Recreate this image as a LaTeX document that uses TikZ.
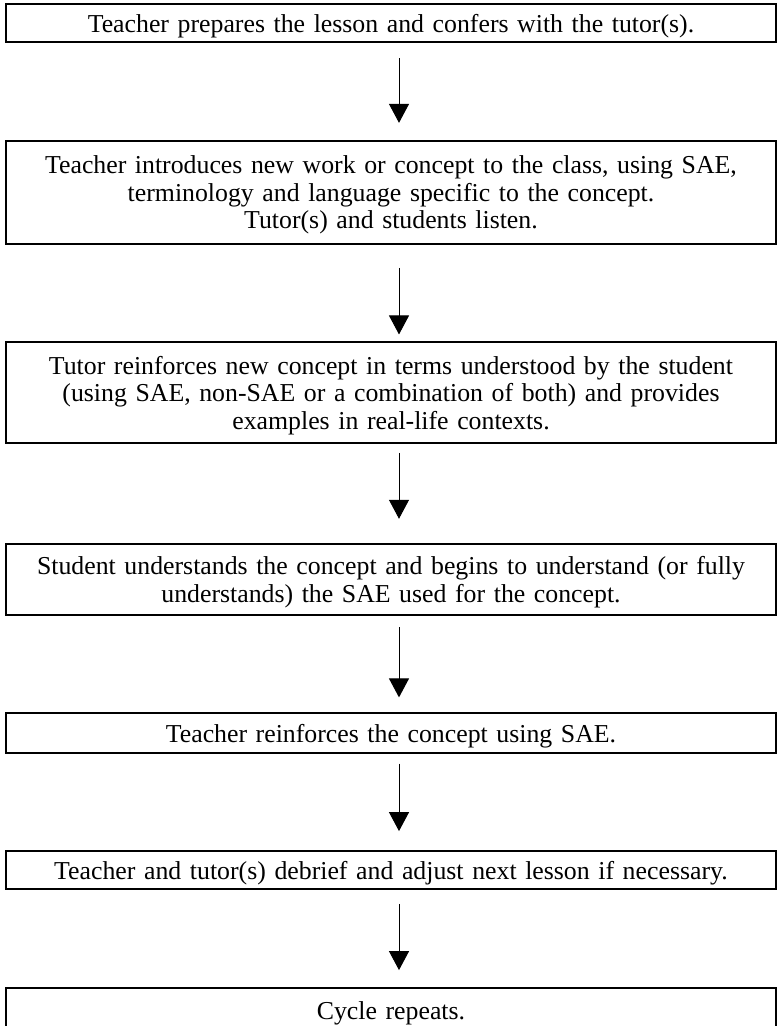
\documentclass[tikz,border=0pt]{standalone}
\usepackage{fontspec}
\setmainfont{Liberation Serif}
\usetikzlibrary{arrows.meta}

\tikzset{
  stepbox/.style={draw, line width=1.8pt, minimum width=769.4pt, inner sep=0pt,
    align=center, text width=765pt, text depth=0pt,
    font=\fontsize{25.8}{27.5}\selectfont},
  flow/.style={line width=1pt, -{Triangle[width=20pt,length=19pt]}}
}

\begin{document}
\begin{tikzpicture}[x=1pt,y=1pt]
  \useasboundingbox (0,0) rectangle (777,-1026);
  \clip (0,0) rectangle (777,-1026);

  % process steps
  \node[stepbox, minimum height=38.6pt] (b1) at (391,-23)
    {Teacher prepares the lesson and confers with the tutor(s).};
  \node[stepbox, minimum height=103.3pt, text depth=55pt] (b2) at (391,-192.4)
    {Teacher introduces new work or concept to the class, using SAE,\\
     terminology and language specific to the concept.\\
     Tutor(s) and students listen.};
  \node[stepbox, minimum height=100.7pt, text depth=55pt] (b3) at (391,-392.7)
    {Tutor reinforces new concept in terms understood by the student\\
     (using SAE, non-SAE or a combination of both) and provides\\
     examples in real-life contexts.};
  \node[stepbox, minimum height=71.6pt, text depth=27.5pt] (b4) at (391,-579.5)
    {Student understands the concept and begins to understand (or fully\\
     understands) the SAE used for the concept.};
  \node[stepbox, minimum height=39.4pt] (b5) at (391,-733)
    {Teacher reinforces the concept using SAE.};
  \node[stepbox, minimum height=38pt] (b6) at (391,-870)
    {Teacher and tutor(s) debrief and adjust next lesson if necessary.};
  \node[stepbox, minimum height=46pt] (b7) at (391,-1011)
    {Cycle repeats.};

  % connectors between steps
  \draw[flow] ([xshift=8pt,yshift=-15pt]b1.south) -- ([xshift=8pt,yshift=17pt]b2.north);
  \draw[flow] ([xshift=8pt,yshift=-23pt]b2.south) -- ([xshift=8pt,yshift=7pt]b3.north);
  \draw[flow] ([xshift=8pt,yshift=-9pt]b3.south) -- ([xshift=8pt,yshift=24pt]b4.north);
  \draw[flow] ([xshift=8pt,yshift=-11pt]b4.south) -- ([xshift=8pt,yshift=15pt]b5.north);
  \draw[flow] ([xshift=8pt,yshift=-10pt]b5.south) -- ([xshift=8pt,yshift=19pt]b6.north);
  \draw[flow] ([xshift=8pt,yshift=-14pt]b6.south) -- ([xshift=8pt,yshift=17pt]b7.north);
\end{tikzpicture}
\end{document}
